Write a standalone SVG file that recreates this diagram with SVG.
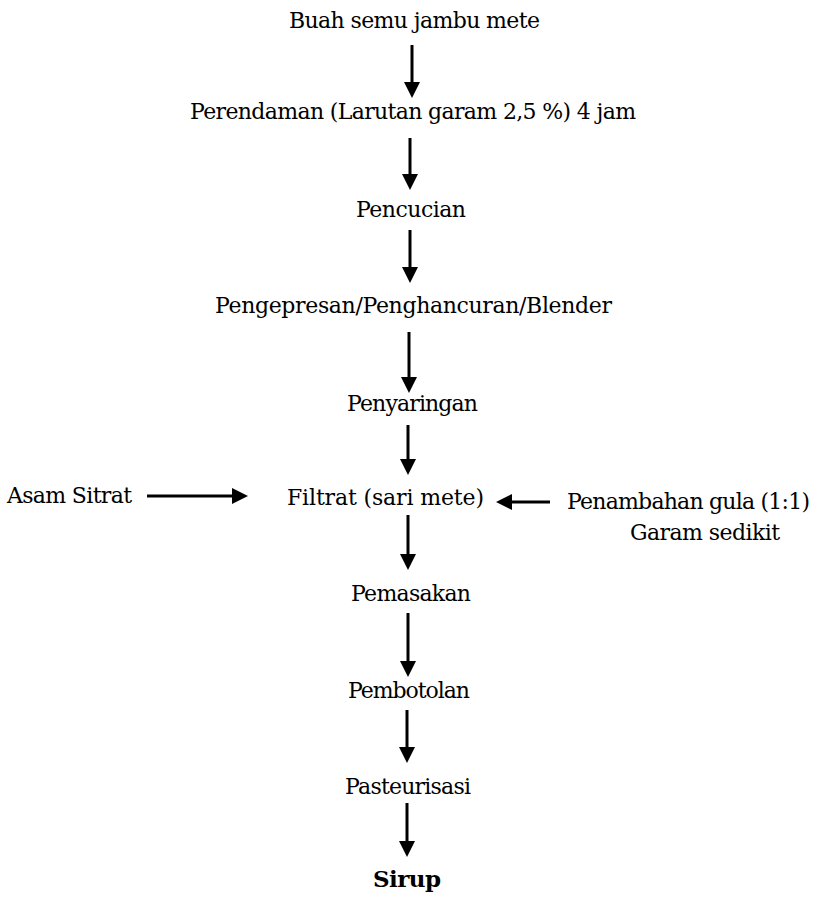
<svg xmlns="http://www.w3.org/2000/svg" width="817" height="897" viewBox="0 0 817 897">
<style>
  text { font-family: "DejaVu Serif", "Liberation Serif", serif; font-size: 22px; fill: #000; }
  .bold { font-weight: bold; font-size: 23px; }
  .conn line { stroke: #000; stroke-width: 3; fill: none; marker-end: url(#ah); }
</style>
<defs>
  <marker id="ah" viewBox="0 0 16 16" refX="1" refY="8" markerWidth="16" markerHeight="16" markerUnits="userSpaceOnUse" orient="auto">
    <path d="M0,0 L16,8 L0,16 Z" fill="#000"/>
  </marker>
</defs>
<rect width="817" height="897" fill="#fff"/>
<g id="n1"><text x="289" y="28" textLength="251">Buah semu jambu mete</text></g>
<g id="n2"><text x="190" y="119" textLength="446">Perendaman (Larutan garam 2,5 %) 4 jam</text></g>
<g id="n3"><text x="356" y="217" textLength="110">Pencucian</text></g>
<g id="n4"><text x="215" y="313" textLength="397">Pengepresan/Penghancuran/Blender</text></g>
<g id="n5"><text x="347" y="411" textLength="131">Penyaringan</text></g>
<g id="n6"><text x="287" y="505" textLength="197">Filtrat (sari mete)</text></g>
<g id="n7"><text x="7" y="503" textLength="125">Asam Sitrat</text></g>
<g id="n8"><text x="567" y="509" textLength="243">Penambahan gula (1:1)</text><text x="630" y="540" textLength="150">Garam sedikit</text></g>
<g id="n9"><text x="351" y="601" textLength="120">Pemasakan</text></g>
<g id="n10"><text x="348" y="698" textLength="122">Pembotolan</text></g>
<g id="n11"><text x="345" y="794" textLength="126">Pasteurisasi</text></g>
<g id="n12"><text class="bold" x="373" y="887" textLength="68">Sirup</text></g>
<g class="conn" id="connectors">
  <line x1="412" y1="45" x2="412" y2="83"/>
  <line x1="410" y1="138" x2="410" y2="175"/>
  <line x1="410" y1="230" x2="410" y2="268"/>
  <line x1="409" y1="332" x2="409" y2="378"/>
  <line x1="408" y1="425" x2="408" y2="460"/>
  <line x1="408" y1="515" x2="408" y2="555"/>
  <line x1="408" y1="613" x2="408" y2="662"/>
  <line x1="407" y1="710" x2="407" y2="748"/>
  <line x1="407" y1="803" x2="407" y2="842"/>
  <line x1="147" y1="496" x2="233" y2="496"/>
  <line x1="550" y1="502" x2="511" y2="502"/>
</g>
</svg>
